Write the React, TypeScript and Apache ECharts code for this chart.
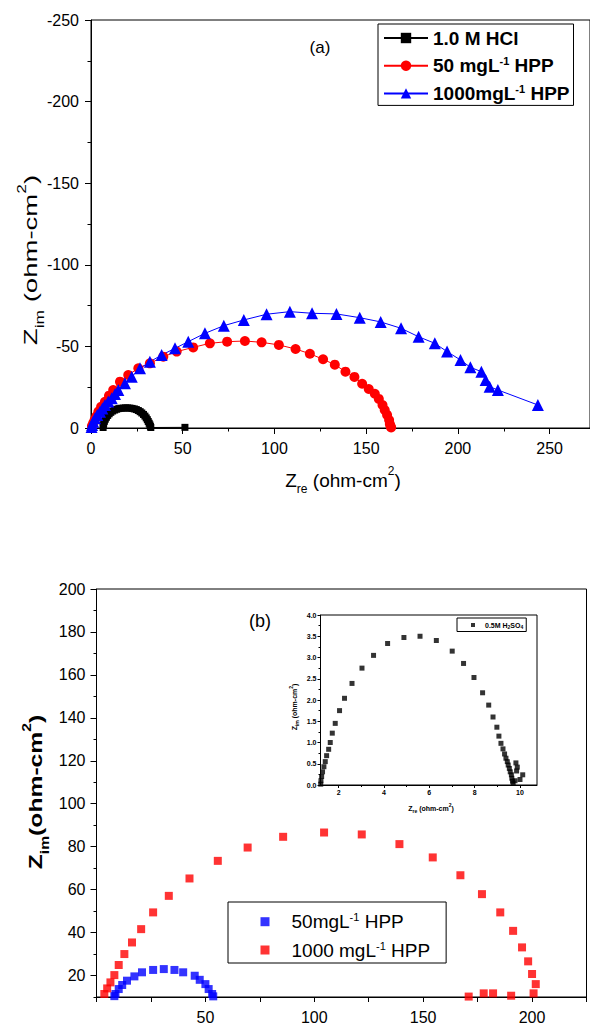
import { useEffect, useRef } from 'react';
import * as echarts from 'echarts';

const FONT = '"Liberation Sans", Arial, sans-serif';

// ---------- Chart (a) ----------
const namesA = ['1.0 M HCl', '50 mgL-1 HPP', '1000mgL-1 HPP'];
const hclData: [number, number][] = [
  [6.6, -0.3], [6.7, -1.5], [6.9, -2.8], [7.3, -4.1], [7.8, -5.4], [8.4, -6.6], [9.1, -7.7],
  [9.9, -8.7], [10.8, -9.6], [11.8, -10.4], [12.9, -11.0], [14.0, -11.5], [15.2, -11.9],
  [16.4, -12.1], [17.6, -12.2], [18.8, -12.3], [20.0, -12.3], [21.2, -12.2], [22.4, -12.0],
  [23.6, -11.7], [24.7, -11.3], [25.8, -10.7], [26.8, -10.0], [27.7, -9.2], [28.6, -8.3],
  [29.4, -7.3], [30.1, -6.2], [30.7, -5.1], [31.2, -4.0], [31.7, -2.9], [32.1, -1.9],
  [32.4, -1.0], [32.6, -0.3], [51.2, -0.4],
];
const hpp50Data: [number, number][] = [
  [0.5, -1.2], [1.2, -3.0], [2.0, -5.0], [2.9, -7.2], [4.0, -10.0], [5.5, -13.0], [7.6, -16.1],
  [9.8, -19.8], [12.1, -23.3], [15.8, -28.4], [20.3, -32.5], [25.8, -36.6], [32.1, -39.6],
  [39.4, -43.7], [46.7, -46.8], [55.7, -49.4], [64.8, -51.9], [74.2, -52.9], [83.9, -53.3],
  [93.0, -52.5], [102.4, -50.9], [111.5, -48.4], [119.3, -45.5], [126.5, -42.1], [132.9, -38.8],
  [138.7, -34.5], [143.6, -31.3], [147.8, -27.1], [151.4, -23.9], [154.7, -21.0], [156.9, -17.8],
  [158.9, -14.1], [160.1, -11.0], [161.4, -8.0], [162.5, -4.9], [162.9, -2.5], [163.3, -1.0],
  [163.6, -0.3],
];
const hpp1000Data: [number, number][] = [
  [0.3, -0.6], [0.6, -1.8], [1.2, -3.8], [2.2, -5.9], [3.4, -8.0], [4.9, -10.0], [6.2, -12.0],
  [7.6, -14.1], [9.4, -16.2], [11.3, -18.2], [13.1, -20.8], [14.9, -23.3], [18.5, -27.4],
  [22.2, -31.4], [26.7, -36.6], [32.1, -40.6], [38.5, -44.7], [45.8, -48.8], [53.0, -52.9],
  [62.1, -58.0], [72.4, -62.7], [83.3, -66.2], [95.7, -69.7], [108.4, -71.3], [120.5, -70.3],
  [133.8, -69.9], [146.5, -67.6], [157.9, -65.0], [169.0, -61.1], [178.6, -55.9], [187.4, -51.9],
  [194.1, -46.8], [201.4, -41.7], [206.8, -37.2], [212.8, -34.5], [215.1, -29.4], [217.3, -25.3],
  [221.8, -23.3], [243.6, -14.1],
];
const xTicksA = [0, 50, 100, 150, 200, 250];
const xMinorTicksA = [25, 75, 125, 175, 225];

// ---------- Chart (b) ----------
const namesB = ['50mgL-1 HPP', '1000 mgL-1 HPP'];
const bHpp50Data: [number, number][] = [
  [8.2, 10.4], [8.7, 11.4], [10.2, 13.7], [11.8, 15.6], [14.0, 17.6], [17.4, 19.6], [20.9, 21.5],
  [26.0, 22.6], [30.9, 23.0], [35.8, 22.6], [39.8, 21.5], [45.1, 19.9], [47.4, 18.0], [50.0, 16.0],
  [51.5, 13.7], [53.1, 11.4], [53.6, 10.3],
];
const bHpp1000Data: [number, number][] = [
  [3.6, 11.4], [4.9, 14.0], [6.4, 16.8], [8.2, 20.2], [10.2, 24.9], [12.8, 30.0], [16.3, 35.4],
  [20.5, 41.6], [26.0, 49.4], [33.2, 57.1], [42.7, 65.2], [55.7, 73.4], [69.4, 79.6], [85.7, 84.6],
  [104.5, 86.6], [121.8, 85.7], [139.1, 81.2], [154.4, 75.0], [167.1, 66.7], [177.0, 57.9],
  [185.4, 49.4], [191.3, 40.8], [195.4, 33.1], [198.2, 26.6], [200.0, 20.7], [201.7, 16.0],
  [200.7, 11.7], [190.4, 10.6], [182.1, 11.7], [177.8, 11.7], [170.9, 10.2],
];
const yTicksB = [20, 40, 60, 80, 100, 120, 140, 160, 180, 200];
const yMinorTicksB = [10, 30, 50, 70, 90, 110, 130, 150, 170, 190];

// ---------- Inset ----------
const insetName = '0.5M H2SO4';
const insetData: [number, number][] = [
  [1.21, 0.02], [1.22, 0.1], [1.25, 0.2], [1.29, 0.31], [1.35, 0.43], [1.41, 0.55], [1.47, 0.69],
  [1.56, 0.84], [1.63, 1.0], [1.72, 1.22], [1.85, 1.45], [2.04, 1.75], [2.26, 2.04], [2.59, 2.39],
  [3.03, 2.75], [3.54, 3.05], [4.16, 3.33], [4.88, 3.47], [5.59, 3.5], [6.31, 3.4], [7.01, 3.15],
  [7.51, 2.86], [7.97, 2.53], [8.35, 2.17], [8.62, 1.88], [8.81, 1.6], [8.98, 1.36], [9.07, 1.15],
  [9.16, 0.98], [9.25, 0.85], [9.32, 0.73], [9.38, 0.63], [9.44, 0.55], [9.48, 0.47], [9.53, 0.39],
  [9.57, 0.31], [9.62, 0.24], [9.64, 0.16], [9.67, 0.09], [9.7, 0.04], [9.78, 0.1], [9.82, 0.52],
  [9.88, 0.42], [9.85, 0.33], [10.0, 0.13], [10.12, 0.24],
];
const xTicksInset = [2, 4, 6, 8, 10];
const xMinorTicksInset = [3, 5, 7, 9];

const BLACK = '#000';
const line = { show: true, onZero: false, lineStyle: { color: BLACK, width: 1 } };
const tick = (length: number, extra: any = {}) => ({ show: true, inside: false, length, lineStyle: { color: BLACK, width: 1 }, ...extra });
const noSplit = { show: false };

function richLabel(base: number, small: number, weight: string, lh: number) {
  return {
    m: { fontSize: base, fontFamily: FONT, fontWeight: weight, fill: BLACK, color: BLACK, lineHeight: lh },
    s: { fontSize: small, fontFamily: FONT, fontWeight: weight, fill: BLACK, color: BLACK, verticalAlign: 'bottom' },
    p: { fontSize: small, fontFamily: FONT, fontWeight: weight, fill: BLACK, color: BLACK, verticalAlign: 'top' },
  };
}

export default function App() {
  const ref = useRef<HTMLDivElement>(null);
  useEffect(() => {
    const chart = echarts.init(ref.current!, null, { renderer: 'svg' });
    const option: any = {
      animation: false,
      backgroundColor: '#fff',
      grid: [
        { left: 91, top: 20, width: 499, height: 408, show: true, borderColor: BLACK, borderWidth: 1, backgroundColor: 'transparent' },
        { left: 96.5, top: 589, width: 490, height: 409, show: true, borderColor: BLACK, borderWidth: 1, backgroundColor: 'transparent' },
        { left: 320.5, top: 615, width: 216.5, height: 170, show: true, borderColor: BLACK, borderWidth: 1, backgroundColor: '#fff' },
      ],
      xAxis: [
        {
          type: 'value', gridIndex: 0, position: 'bottom', min: 0, max: 272,
          axisLine: line, axisTick: tick(6, { customValues: xTicksA }),
          axisLabel: { customValues: xTicksA, fontSize: 16, fontFamily: FONT, color: BLACK, margin: 12 },
          splitLine: noSplit,
        },
        {
          type: 'value', gridIndex: 0, position: 'bottom', min: 0, max: 272,
          axisLine: { show: false }, axisTick: tick(3.5, { customValues: xMinorTicksA }),
          axisLabel: { show: false }, splitLine: noSplit,
        },
        {
          type: 'value', gridIndex: 1, position: 'bottom', min: 0, max: 225, interval: 25,
          axisLine: line, axisTick: tick(5),
          axisLabel: {
            fontSize: 16, fontFamily: FONT, color: BLACK, margin: 12,
            formatter: (v: number) => (v % 50 === 0 && v > 0 && v < 225 ? String(v) : ''),
          },
          splitLine: noSplit,
        },
        {
          type: 'value', gridIndex: 2, position: 'bottom', min: 1.2, max: 10.75,
          axisLine: line, axisTick: tick(3, { customValues: xTicksInset }),
          axisLabel: { customValues: xTicksInset, fontSize: 7, fontWeight: 'bold', fontFamily: FONT, color: BLACK, margin: 4 },
          splitLine: noSplit,
        },
        {
          type: 'value', gridIndex: 2, position: 'bottom', min: 1.2, max: 10.75,
          axisLine: { show: false }, axisTick: tick(2, { customValues: xMinorTicksInset }),
          axisLabel: { show: false }, splitLine: noSplit,
        },
      ],
      yAxis: [
        {
          type: 'value', gridIndex: 0, position: 'left', min: -250, max: 0, interval: 50, inverse: true,
          axisLine: line, axisTick: tick(6),
          minorTick: { show: true, splitNumber: 2, length: 3.5, lineStyle: { color: BLACK, width: 1 } },
          axisLabel: { fontSize: 16, fontFamily: FONT, color: BLACK, margin: 12 },
          splitLine: noSplit, minorSplitLine: noSplit,
        },
        {
          type: 'value', gridIndex: 1, position: 'left', min: 10, max: 200,
          axisLine: line, axisTick: tick(6, { customValues: yTicksB }),
          axisLabel: { customValues: yTicksB, fontSize: 16, fontFamily: FONT, color: BLACK, margin: 11 },
          splitLine: noSplit,
        },
        {
          type: 'value', gridIndex: 1, position: 'left', min: 10, max: 200,
          axisLine: { show: false }, axisTick: tick(3, { customValues: yMinorTicksB }),
          axisLabel: { show: false }, splitLine: noSplit,
        },
        {
          type: 'value', gridIndex: 2, position: 'left', min: 0, max: 4, interval: 0.5,
          axisLine: line, axisTick: tick(3),
          minorTick: { show: true, splitNumber: 2, length: 2, lineStyle: { color: BLACK, width: 1 } },
          axisLabel: {
            fontSize: 7, fontWeight: 'bold', fontFamily: FONT, color: BLACK, margin: 4,
            formatter: (v: number) => v.toFixed(1),
          },
          splitLine: noSplit, minorSplitLine: noSplit,
        },
      ],
      legend: [
        {
          data: namesA, orient: 'vertical', left: 378, top: 24, padding: [4, 4, 2, 5], itemGap: 7.7,
          itemWidth: 44, itemHeight: 13, borderColor: BLACK, borderWidth: 1, borderRadius: 0,
          backgroundColor: '#fff', selectedMode: false,
          textStyle: {
            fontSize: 19, fontWeight: 'bold', fontFamily: FONT, color: BLACK, lineHeight: 20,
            rich: { sup: { fontSize: 11, fontWeight: 'bold', fontFamily: FONT, color: BLACK, verticalAlign: 'top', lineHeight: 11 } },
          },
          formatter: (n: string) => n.replace('-1', '{sup|-1}'),
        },
        {
          data: namesB, orient: 'vertical', left: 228, top: 902, padding: [9.7, 16, 3, 32.5], itemGap: 8.3,
          itemWidth: 9, itemHeight: 9, icon: 'rect', borderColor: BLACK, borderWidth: 1, borderRadius: 0,
          backgroundColor: '#fff', selectedMode: false,
          textStyle: {
            fontSize: 19, fontFamily: FONT, color: BLACK, lineHeight: 20, padding: [0, 0, 0, 17],
            rich: { sup: { fontSize: 11, fontFamily: FONT, color: BLACK, verticalAlign: 'top', lineHeight: 11 } },
          },
          formatter: (n: string) => n.replace('-1', '{sup|-1}'),
        },
        {
          data: [insetName], orient: 'vertical', left: 457, top: 618, padding: [2.5, 3, 2, 14], itemGap: 2,
          itemWidth: 4, itemHeight: 4, icon: 'rect', borderColor: BLACK, borderWidth: 1, borderRadius: 0,
          backgroundColor: '#fff', selectedMode: false,
          textStyle: {
            fontSize: 7, fontWeight: 'bold', fontFamily: FONT, color: BLACK, lineHeight: 9, padding: [0, 0, 0, 5],
            rich: { sub: { fontSize: 5, fontWeight: 'bold', fontFamily: FONT, color: BLACK, verticalAlign: 'bottom', lineHeight: 5 } },
          },
          formatter: () => '0.5M H{sub|2}SO{sub|4}',
        },
      ],
      graphic: [
        { type: 'text', x: 320, y: 47, style: { text: '(a)', fontSize: 17, fontFamily: FONT, fill: BLACK, align: 'center', verticalAlign: 'middle' } },
        { type: 'text', x: 260, y: 621, style: { text: '(b)', fontSize: 18, fontFamily: FONT, fill: BLACK, align: 'center', verticalAlign: 'middle' } },
        {
          type: 'text', x: 343, y: 480,
          style: { text: '{m|Z}{s|re}{m| (ohm-cm}{p|2}{m|)}', rich: richLabel(19, 12, 'normal', 30), align: 'center', verticalAlign: 'middle', fill: BLACK },
        },
        {
          type: 'text', x: 31, y: 260, rotation: Math.PI / 2, scaleX: 1.45,
          style: { text: '{m|Z}{s|im}{m| (ohm-cm}{p|2}{m|)}', rich: richLabel(19, 12, 'normal', 30), align: 'center', verticalAlign: 'middle', fill: BLACK },
        },
        {
          type: 'text', x: 36, y: 792, rotation: Math.PI / 2, scaleX: 1.3,
          style: { text: '{m|Z}{s|im}{m|(ohm-cm}{p|2}{m|)}', rich: richLabel(19, 12, 'bold', 30), align: 'center', verticalAlign: 'middle', fill: BLACK },
        },
        {
          type: 'text', x: 431, y: 808,
          style: { text: '{m|Z}{s|re}{m| (ohm-cm}{p|2}{m|)}', rich: richLabel(7, 5, 'bold', 11), align: 'center', verticalAlign: 'middle', fill: BLACK },
        },
        {
          type: 'text', x: 294, y: 707, rotation: Math.PI / 2,
          style: { text: '{m|Z}{s|im}{m| (ohm-cm}{p|2}{m|)}', rich: richLabel(7, 5, 'bold', 11), align: 'center', verticalAlign: 'middle', fill: BLACK },
        },
      ],
      series: [
        {
          name: namesA[0], type: 'line', xAxisIndex: 0, yAxisIndex: 0, data: hclData,
          symbol: 'rect', symbolSize: 7, color: '#000000', lineStyle: { width: 1, color: '#000000' },
          itemStyle: { color: '#000000' },
        },
        {
          name: namesA[1], type: 'line', xAxisIndex: 0, yAxisIndex: 0, data: hpp50Data,
          symbol: 'circle', symbolSize: 10, color: '#ff0000', lineStyle: { width: 1, color: '#ff0000' },
          itemStyle: { color: '#ff0000' },
        },
        {
          name: namesA[2], type: 'line', xAxisIndex: 0, yAxisIndex: 0, data: hpp1000Data,
          symbol: 'triangle', symbolSize: 12, color: '#0000ff', lineStyle: { width: 1, color: '#0000ff' },
          itemStyle: { color: '#0000ff' },
        },
        {
          name: namesB[0], type: 'scatter', xAxisIndex: 2, yAxisIndex: 1, data: bHpp50Data,
          symbol: 'rect', symbolSize: 8, itemStyle: { color: '#0000ff' },
        },
        {
          name: namesB[1], type: 'scatter', xAxisIndex: 2, yAxisIndex: 1, data: bHpp1000Data,
          symbol: 'rect', symbolSize: 8, itemStyle: { color: '#ff0000' },
        },
        {
          name: insetName, type: 'scatter', xAxisIndex: 3, yAxisIndex: 3, data: insetData,
          symbol: 'rect', symbolSize: 5, itemStyle: { color: '#000000' },
        },
      ],
    };
    chart.setOption(option);
    return () => chart.dispose();
  }, []);
  return (
    <div
      ref={ref}
      style={{ position: 'fixed', left: 0, top: 0, width: 590, height: 1025, background: '#fff' }}
    />
  );
}
